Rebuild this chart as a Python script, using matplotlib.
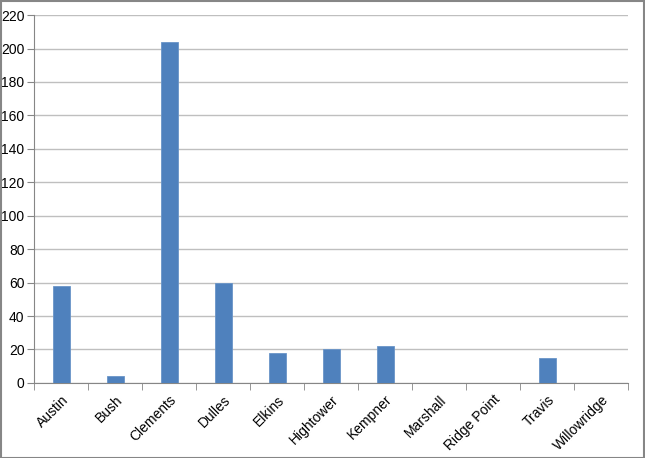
import numpy as np
import matplotlib.pyplot as plt

plt.rcParams['font.family'] = ['Liberation Sans', 'DejaVu Sans']

schools = ['Austin', 'Bush', 'Clements', 'Dulles', 'Elkins', 'Hightower',
           'Kempner', 'Marshall', 'Ridge Point', 'Travis', 'Willowridge']
counts = [58, 4, 204, 60, 18, 20, 22, 0, 0, 15, 0]
y_ticks = list(range(0, 221, 20))

fig = plt.figure(figsize=(6.45, 4.58), dpi=100)
ax = fig.add_axes([0.053, 0.164, 0.921, 0.803])

x = np.arange(len(schools))
ax.bar(x, counts, width=0.32, color='#4F81BD', edgecolor='#6A95C8', linewidth=0.6, zorder=3)

ax.set_xlim(-0.5, len(schools) - 0.5)
ax.set_ylim(0, 220)
ax.set_yticks(y_ticks)
ax.yaxis.grid(True, color='#BFBFBF', linewidth=1, zorder=0)

ax.set_xticks(x)
ax.set_xticklabels(schools, rotation=45, ha='right', rotation_mode='anchor', fontsize=10)
ax.set_xticks(np.arange(-0.5, len(schools), 1), minor=True)
ax.tick_params(axis='x', which='major', length=0, pad=7)
ax.tick_params(axis='x', which='minor', length=5, color='#868686', direction='out')
ax.tick_params(axis='y', length=5, color='#868686', labelsize=10, pad=2)

for side in ['top', 'right']:
    ax.spines[side].set_visible(False)
ax.spines['left'].set_color('#868686')
ax.spines['bottom'].set_color('#868686')

fig.patches.append(plt.Rectangle((0.001, 0.001), 0.997, 0.997, transform=fig.transFigure,
                                 fill=False, edgecolor='#868686', linewidth=1.5))

fig.savefig('out.png', dpi=100)
